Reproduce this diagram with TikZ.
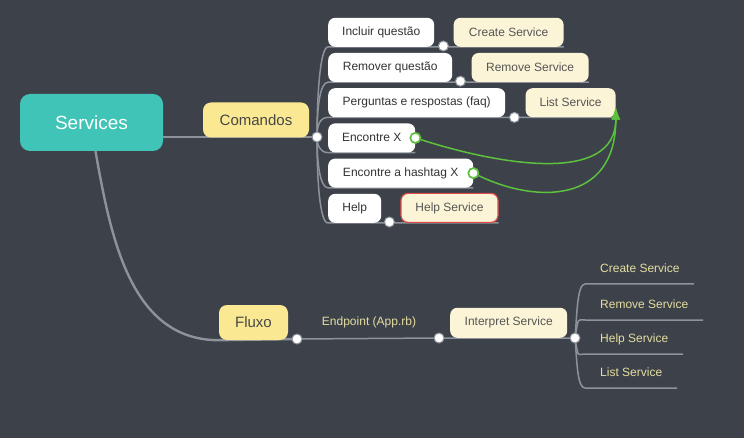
\documentclass[tikz,border=0pt]{standalone}
\usepackage{fontspec}
\setmainfont{Liberation Sans}
\usetikzlibrary{positioning,arrows.meta}
\definecolor{bgdark}{HTML}{3D424A}
\definecolor{rootteal}{HTML}{40C4B7}
\definecolor{topicyellow}{HTML}{FAE892}
\definecolor{svccream}{HTML}{FBF4D7}
\definecolor{linegray}{HTML}{8E939B}
\definecolor{linkgreen}{HTML}{5CC13C}
\definecolor{helpred}{HTML}{E04A4A}
\definecolor{labelyellow}{HTML}{E4DD9F}
\definecolor{textdark}{HTML}{333333}
\definecolor{textsvc}{HTML}{555555}
\pgfdeclarelayer{back}
\pgfdeclarelayer{edges}
\pgfsetlayers{back,edges,main}
\tikzset{
  root/.style={fill=rootteal, rounded corners=10pt, minimum width=143pt, minimum height=57pt, text=white, font=\fontsize{19}{22}\selectfont},
  topic/.style={fill=topicyellow, rounded corners=8pt, minimum height=35pt, text=textdark!90, font=\fontsize{15}{18}\selectfont},
  cmd/.style={fill=white, rounded corners=7pt, minimum height=29pt, inner sep=0pt, text=textdark, font=\fontsize{12}{14}\selectfont},
  svc/.style={cmd, fill=svccream, text=textsvc},
  rlabel/.style={anchor=south west, inner xsep=15pt, inner ysep=8.5pt, text height=9pt, text depth=3pt, text=labelyellow, font=\fontsize{12}{14}\selectfont},
  dot/.style={circle, fill=white, draw=linegray, line width=1pt, inner sep=0pt, minimum size=10pt},
  gdot/.style={dot, draw=linkgreen, line width=1.6pt},
  trunk/.style={draw=linegray, line width=2pt},
  branch/.style={draw=linegray, line width=1.5pt},
  link/.style={draw=linkgreen, line width=1.5pt, -{Latex[length=13pt,width=9pt]}}
}
\begin{document}
\begin{tikzpicture}[x=1pt,y=-1pt]
\begin{pgfonlayer}{back}
  \fill[bgdark] (0,0) rectangle (744,438);
\end{pgfonlayer}
\useasboundingbox (0,0) rectangle (744,438);

% root and main topics
\node[root] (services) at (91.5,122.5) {Services};
\node[topic, minimum width=106pt] (comandos) at (256,120) {Comandos};
\node[dot] (cC) at (317,137) {};
\node[topic, minimum width=69pt] (fluxo) at (253.5,322.5) {Fluxo};
\node[dot] (fC) at (297,339) {};

% commands
\node[cmd, minimum width=106pt, anchor=south west] (incluir) at (328,47) {Incluir questão};
\node[cmd, minimum width=124pt, below right=5.8pt and 0pt of incluir.south west] (remover) {Remover questão};
\node[cmd, minimum width=177pt, below right=5.8pt and 0pt of remover.south west] (perguntas) {Perguntas e respostas (faq)};
\node[cmd, minimum width=87pt, below right=5.8pt and 0pt of perguntas.south west] (encontrex) {Encontre X};
\node[cmd, minimum width=145pt, below right=5.8pt and 0pt of encontrex.south west] (hashtag) {Encontre a hashtag X};
\node[cmd, minimum width=53pt, below right=5.8pt and 0pt of hashtag.south west] (help) {Help};

% services of the commands
\node[svc, minimum width=110pt, anchor=south west] (create1) at ([xshift=19pt]incluir.south east) {Create Service};
\node[svc, minimum width=117pt, anchor=south west] (remove1) at ([xshift=19pt]remover.south east) {Remove Service};
\node[svc, minimum width=90pt, anchor=south west] (list1) at ([xshift=20pt]perguntas.south east) {List Service};
\node[svc, minimum width=97pt, anchor=south west, draw=helpred, line width=1.2pt] (helpsvc) at ([xshift=19pt]help.south east) {Help Service};

\node[dot] (c1) at ([xshift=9pt,yshift=1pt]incluir.south east) {};
\node[dot] (c2) at ([xshift=8pt,yshift=1pt]remover.south east) {};
\node[dot] (c3) at ([xshift=9pt]perguntas.south east) {};
\node[dot] (c6) at ([xshift=8pt,yshift=1pt]help.south east) {};
\node[gdot] (cx) at (encontrex.east) {};
\node[gdot] (ch) at (hashtag.east) {};

% flow
\node[text=labelyellow, font=\fontsize{12}{14}\selectfont] (endpoint) at (369,322) {Endpoint (App.rb)};
\node[dot] (iL) at (439,338) {};
\node[svc, minimum width=117pt, minimum height=30pt, anchor=south west] (interpret) at (450,338) {Interpret Service};
\node[dot] (iR) at (575,338) {};
\foreach \name/\y/\txt in {create2/284/Create Service, remove2/320/Remove Service, help2/354/Help Service, list2/388/List Service}
  \node[rlabel] (\name) at (585,\y) {\txt};

\begin{pgfonlayer}{edges}
  \draw[trunk] (cC.center) -- (cC.center -| services.east);
  \draw[trunk, line width=2.4pt] ([xshift=4pt]services.south) to[out=-80,in=180] (fluxo.south west) -- (fC.center);
  \foreach \n/\a/\d/\e in {incluir/90/40pt/create1, remover/90/30pt/remove1, perguntas/90/12pt/list1, help/-90/45pt/helpsvc}
    \draw[branch] (cC.center) to[out=\a, in=180, out distance=\d, in distance=8pt] (\n.south west) -- (\e.south east);
  \foreach \n/\d in {encontrex/8pt, hashtag/26pt}
    \draw[branch] (cC.center) to[out=-90, in=180, out distance=\d, in distance=8pt] (\n.south west) -- (\n.south east);
  \draw[branch] (fC.center) -- (iL.center) -- (iR.center);
  \foreach \n/\a/\l in {create2/85/109, remove2/80/118, help2/-80/98, list2/-85/92}
    \draw[branch] (iR.center) to[out=\a, in=180, out distance=22pt, in distance=8pt] (\n.south west) -- ++(\l,0);
\end{pgfonlayer}

% links to the list service
\draw[link] (cx) .. controls (500,165) and (616,185) .. ([yshift=-4pt]list1.east);
\draw[link] (ch) .. controls (535,203) and (616,205) .. ([yshift=-4pt]list1.east);
\node[gdot] at (cx) {};
\node[gdot] at (ch) {};
\end{tikzpicture}
\end{document}
